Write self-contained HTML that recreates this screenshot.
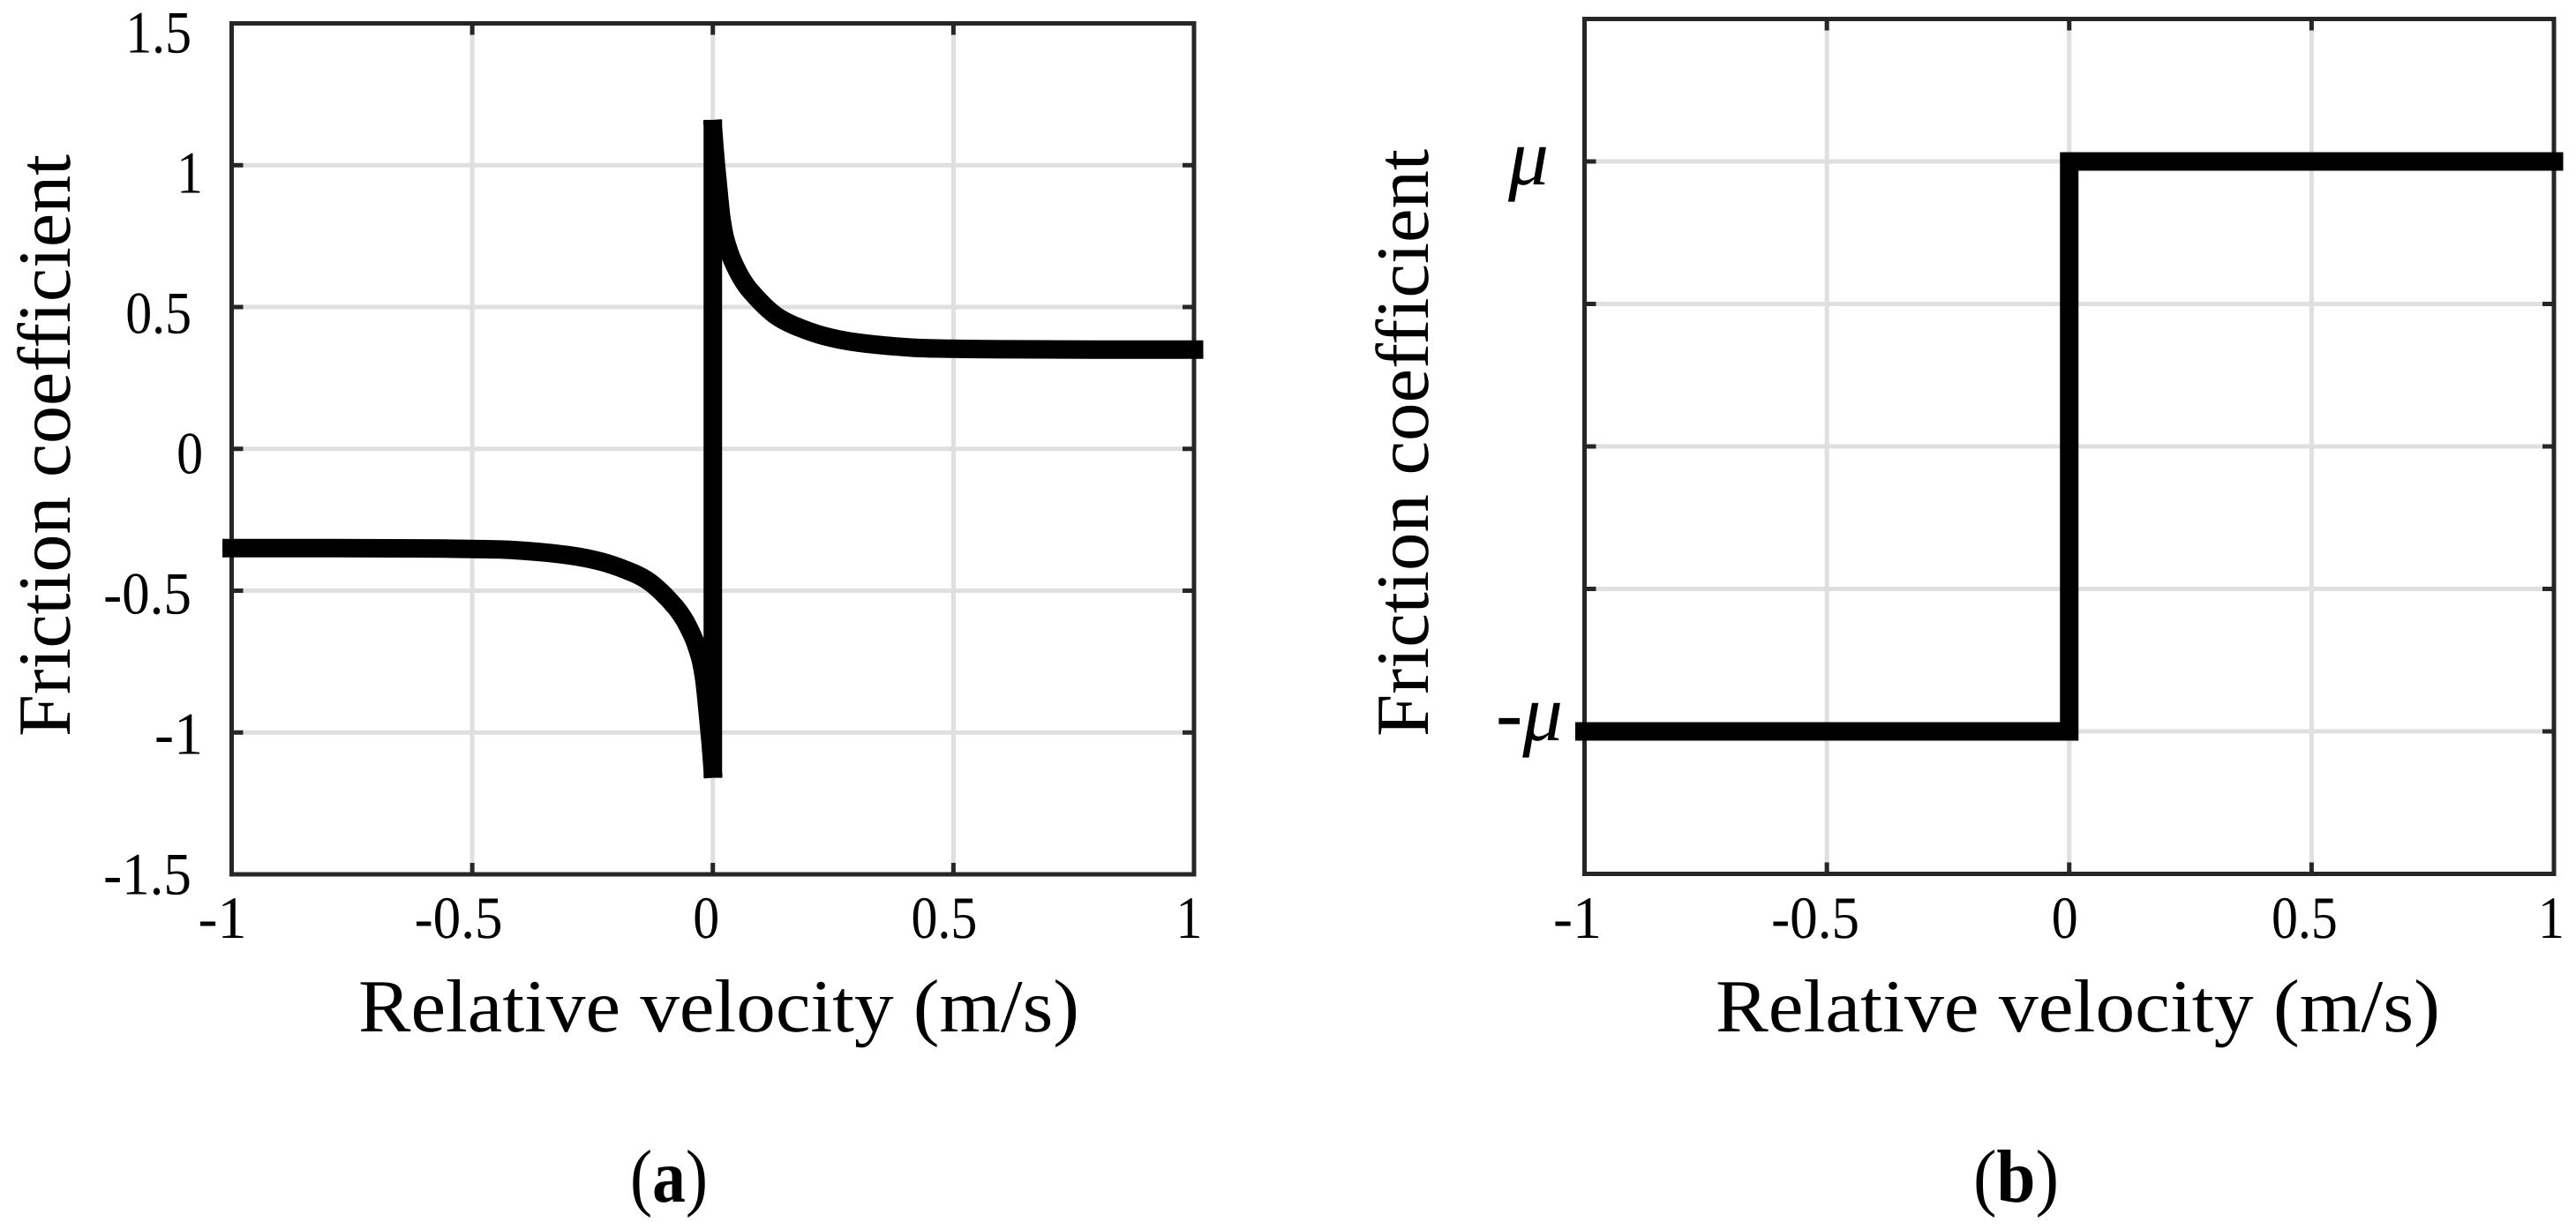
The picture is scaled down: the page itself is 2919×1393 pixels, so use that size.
<!DOCTYPE html>
<html lang="en">
<head>
<meta charset="utf-8">
<title>Friction coefficient versus relative velocity</title>
<style>
html,body{margin:0;padding:0;background:#fff;width:2919px;height:1393px;overflow:hidden}
svg{display:block}
text{font-family:"Liberation Serif","DejaVu Serif",serif;fill:#000;text-rendering:geometricPrecision}
</style>
</head>
<body>
<svg id="figure" xmlns="http://www.w3.org/2000/svg" width="2919" height="1393" viewBox="0 0 2919 1393"></svg>
<script>
// ---- chart data ----
const xTicks = [-1, -0.5, 0, 0.5, 1];
const xTickLabels = ['-1', '-0.5', '0', '0.5', '1'];
const yTicksA = [-1.5, -1, -0.5, 0, 0.5, 1, 1.5];
const yTickLabelsA = ['-1.5', '-1', '-0.5', '0', '0.5', '1', '1.5'];
const yTicksB = [-1, -0.5, 0, 0.5, 1];
const yTickLabelsB = ['-\u03BC', '', '', '', '\u03BC'];

const stribeckNegVelocity = [-1, -0.8, -0.6, -0.5, -0.413, -0.3, -0.229, -0.169, -0.135, -0.108, -0.077, -0.06, -0.046, -0.036, -0.025, -0.018, -0.014, -0.01, -0.006, -0.003, -0.0005];
const stribeckNegFriction = [-0.35, -0.35, -0.351, -0.353, -0.357, -0.375, -0.399, -0.435, -0.465, -0.503, -0.559, -0.6, -0.645, -0.685, -0.745, -0.81, -0.87, -0.94, -1.01, -1.07, -1.127];
const stribeckJumpVelocity = [0, 0];
const stribeckJumpFriction = [-1.127, 1.127];
const stribeckPosVelocity = [0.0005, 0.003, 0.006, 0.01, 0.014, 0.018, 0.025, 0.036, 0.046, 0.06, 0.077, 0.108, 0.135, 0.169, 0.229, 0.3, 0.413, 0.5, 0.6, 0.8, 1];
const stribeckPosFriction = [1.127, 1.07, 1.01, 0.94, 0.87, 0.81, 0.745, 0.685, 0.645, 0.6, 0.559, 0.503, 0.465, 0.435, 0.399, 0.375, 0.357, 0.353, 0.351, 0.35, 0.35];

const coulombVelocity = [-1, 0, 0, 1];
const coulombFriction = [-1, -1, 1, 1];

const xAxisTitle = 'Relative velocity (m/s)';
const yAxisTitle = 'Friction coefficient';

// ---- helpers ----
const NS = 'http://www.w3.org/2000/svg';
const root = document.getElementById('figure');
const TICK_SIZE = 68;
const CHAR_W = {'-': 0.42, '.': 0.25};

function make(tag, attrs, parent) {
  const el = document.createElementNS(NS, tag);
  for (const k in attrs) el.setAttribute(k, attrs[k]);
  parent.appendChild(el);
  return el;
}
function tickWidth(str) {
  let w = 0;
  for (const c of str) w += (CHAR_W[c] || 0.5);
  return w * TICK_SIZE * 0.88;
}
function scaleLinear(d0, d1, r0, r1) {
  return v => r0 + (v - d0) * (r1 - r0) / (d1 - d0);
}
function pathOf(vs, fs, X, Y) {
  return vs.map((v, i) => (i ? 'L' : 'M') + X(v).toFixed(2) + ' ' + Y(fs[i]).toFixed(2)).join(' ');
}
// Smooth curve through the data points: each point's tangent follows its
// neighbours, with handles sized by the segment so that it cannot overshoot.
function smoothPathOf(vs, fs, X, Y) {
  const pts = vs.map((v, i) => [X(v), Y(fs[i])]);
  const tan = pts.map((p, i) => {
    const a = pts[Math.max(i - 1, 0)], b = pts[Math.min(i + 1, pts.length - 1)];
    const dx = b[0] - a[0], dy = b[1] - a[1], len = Math.hypot(dx, dy) || 1;
    return [dx / len, dy / len];
  });
  let d = 'M' + pts[0][0].toFixed(2) + ' ' + pts[0][1].toFixed(2);
  for (let i = 1; i < pts.length; i++) {
    const a = pts[i - 1], b = pts[i];
    const h = Math.hypot(b[0] - a[0], b[1] - a[1]) / 3;
    d += ' C' + (a[0] + tan[i - 1][0] * h).toFixed(2) + ' ' + (a[1] + tan[i - 1][1] * h).toFixed(2) +
         ' ' + (b[0] - tan[i][0] * h).toFixed(2) + ' ' + (b[1] - tan[i][1] * h).toFixed(2) +
         ' ' + b[0].toFixed(2) + ' ' + b[1].toFixed(2);
  }
  return d;
}
function xNudge(v, panelShift) {
  let n = -8;
  if (v === 1) n = -3;
  else if (v === -1) n = -8;
  else if (v === -0.5) n = -13;
  else if (v === 0) n = -5;
  return n + panelShift;
}

function drawPanel(p) {
  const g = make('g', {}, root);
  
  
  const X = scaleLinear(-1, 1, p.left, p.right);
  const Y = scaleLinear(-1.5, 1.5, p.bottom, p.top);

  // grid
  xTicks.forEach(v => {
    if (v === -1 || v === 1) return;
    const gl = make('line', {x1: X(v), x2: X(v), y1: p.top, y2: p.bottom, stroke: '#dfdfdf', 'stroke-width': 5}, g);
    
    
  });
  p.yTicks.forEach(v => {
    if (v === -1.5 || v === 1.5) return;
    const gl = make('line', {x1: p.left, x2: p.right, y1: Y(v), y2: Y(v), stroke: '#dfdfdf', 'stroke-width': 5}, g);
    
    
  });

  // tick marks
  xTicks.forEach(v => {
    if (v === -1 || v === 1) return;
    const t1 = make('line', {x1: X(v), x2: X(v), y1: p.bottom, y2: p.bottom - 13, stroke: '#262626', 'stroke-width': 5}, g);
    
    
    const t2 = make('line', {x1: X(v), x2: X(v), y1: p.top, y2: p.top + 13, stroke: '#262626', 'stroke-width': 5}, g);
    
    
  });
  p.yTicks.forEach(v => {
    if (v === -1.5 || v === 1.5) return;
    const t1 = make('line', {x1: p.left, x2: p.left + 13, y1: Y(v), y2: Y(v), stroke: '#262626', 'stroke-width': 5}, g);
    
    
    const t2 = make('line', {x1: p.right, x2: p.right - 13, y1: Y(v), y2: Y(v), stroke: '#262626', 'stroke-width': 5}, g);
    
    
  });

  // frame
  const frame = make('rect', {x: p.left, y: p.top, width: p.right - p.left, height: p.bottom - p.top, fill: 'none', stroke: '#262626', 'stroke-width': 5}, g);
  
  

  // curve
  const curve = make('path', {d: p.curve(X, Y), fill: 'none', stroke: '#000', 'stroke-width': 21, 'stroke-linecap': p.cap, 'stroke-linejoin': p.join}, g);
  
  

  // x tick labels
  xTicks.forEach((v, i) => {
    const s = xTickLabels[i];
    const t = make('text', {x: X(v) + xNudge(v, p.labelShift), y: 1063, 'text-anchor': 'middle', 'font-size': TICK_SIZE, textLength: tickWidth(s), lengthAdjust: 'spacingAndGlyphs'}, g);
    t.textContent = s;
    
    
  });

  // y tick labels
  p.yLabels(g, X, Y);

  // axis titles
  const xt = make('text', {x: p.xTitleX, y: 1169, 'font-size': 85, textLength: p.xTitleLen, lengthAdjust: 'spacingAndGlyphs'}, g);
  xt.textContent = xAxisTitle;
  
  

  const yt = make('text', {transform: 'translate(' + p.yTitleX + ',835) rotate(-90)', x: 0, y: 0, 'font-size': 85, textLength: p.yTitleLen, lengthAdjust: 'spacingAndGlyphs'}, g);
  yt.textContent = yAxisTitle;
  
  

  // caption
  const cap = make('text', {x: p.capX, y: 1362, 'font-size': 85, textLength: p.capLen, lengthAdjust: 'spacingAndGlyphs'}, g);
  const open = make('tspan', {}, cap); open.textContent = '(';
  const letter = make('tspan', {'font-weight': 'bold'}, cap); letter.textContent = p.caption;
  const close = make('tspan', {}, cap); close.textContent = ')';
  
  
}

drawPanel({
  name: 'panel-a-stribeck',
  left: 262.5, right: 1353, top: 26.5, bottom: 991,
  yTicks: yTicksA, cap: 'square', join: 'round', labelShift: -2.5,
  xTitleX: 406, xTitleLen: 817, yTitleX: 79, yTitleLen: 660,
  capX: 714, capLen: 88, caption: 'a',
  curve: (X, Y) =>
    smoothPathOf(stribeckNegVelocity, stribeckNegFriction, X, Y) + ' ' +
    pathOf(stribeckJumpVelocity, stribeckJumpFriction, X, Y) + ' ' +
    smoothPathOf(stribeckPosVelocity, stribeckPosFriction, X, Y),
  yLabels: (g, X, Y) => {
    yTicksA.forEach((v, i) => {
      const s = yTickLabelsA[i];
      const edge = s.indexOf('.') >= 0 ? 217 : 230;
      const t = make('text', {x: edge, y: Y(v) + 27.75 + 3.5 * v, 'text-anchor': 'end', 'font-size': TICK_SIZE, textLength: tickWidth(s), lengthAdjust: 'spacingAndGlyphs'}, g);
      t.textContent = s;
      
      
    });
  }
});

drawPanel({
  name: 'panel-b-coulomb',
  left: 1795.5, right: 2894, top: 21.5, bottom: 990.5,
  yTicks: yTicksB, cap: 'square', join: 'miter', labelShift: 0,
  xTitleX: 1944, xTitleLen: 821, yTitleX: 1618, yTitleLen: 666,
  capX: 2236, capLen: 97, caption: 'b',
  curve: (X, Y) => pathOf(coulombVelocity, coulombFriction, X, Y),
  yLabels: (g, X, Y) => {
    yTicksB.forEach((v, i) => {
      const s = yTickLabelsB[i];
      if (!s) return;
      const neg = v < 0;
      const t = make('text', {x: neg ? 1771 : 1755, y: Y(v) + (neg ? 10 : 26), 'text-anchor': 'end', 'font-size': 92, 'font-style': 'italic', textLength: neg ? 76 : 46, lengthAdjust: 'spacingAndGlyphs'}, g);
      t.textContent = s;
      
      
    });
  }
});
</script>
</body>
</html>
